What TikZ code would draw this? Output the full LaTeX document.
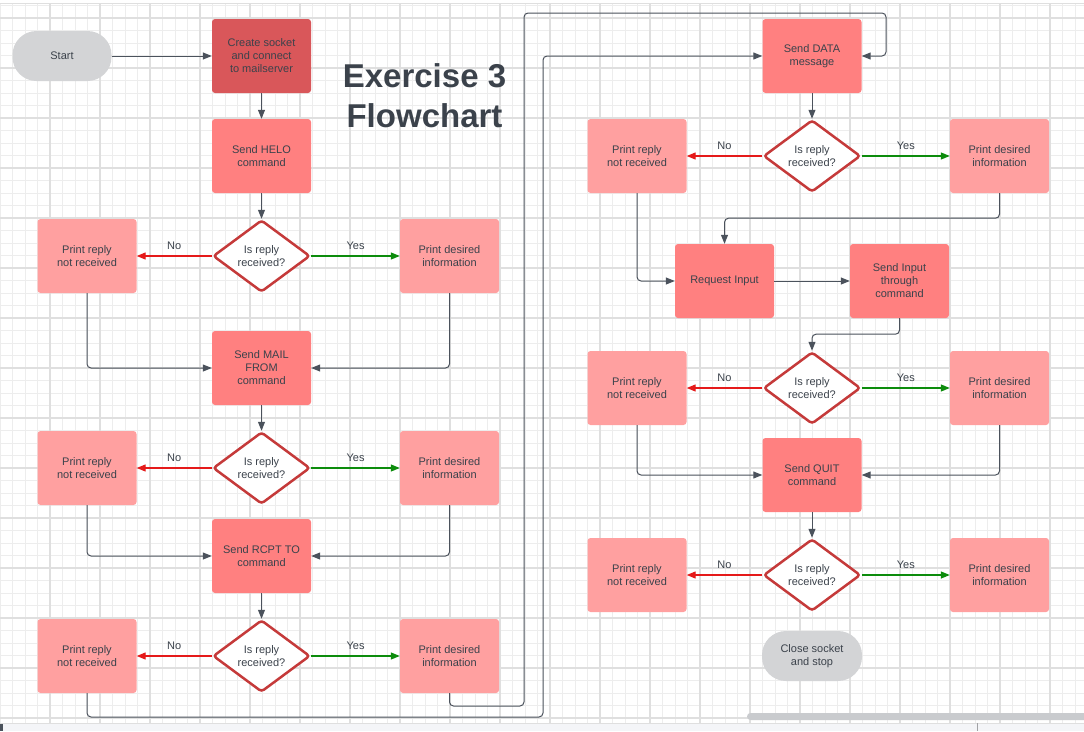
\documentclass[tikz,border=0pt]{standalone}
\usepackage{fontspec}
\setmainfont{Liberation Sans}
\usetikzlibrary{shapes.geometric,arrows.meta}
\definecolor{gridminor}{HTML}{EDEDED}
\definecolor{gridmajor}{HTML}{DFDFDF}
\definecolor{textc}{HTML}{3B424B}
\definecolor{connc}{HTML}{4B525C}
\definecolor{noc}{HTML}{E51A1A}
\definecolor{yesc}{HTML}{0C8C0C}
\definecolor{decc}{HTML}{C53A3A}
\definecolor{createfill}{HTML}{D9575A}
\definecolor{cmdfill}{HTML}{FF8080}
\definecolor{prtfill}{HTML}{FFA0A0}
\definecolor{termfill}{HTML}{D3D4D6}
\definecolor{stripc}{HTML}{F4F5F8}
\definecolor{scrollc}{HTML}{C9CBCE}
\begin{document}
\begin{tikzpicture}[x=1pt,y=-1pt,
  txt/.style={text=textc, font=\fontsize{11}{13}\selectfont, align=center},
  cmdbox/.style={txt, rectangle, fill=cmdfill, rounded corners=3pt, minimum width=99pt, minimum height=74pt, inner sep=0pt},
  prtbox/.style={cmdbox, fill=prtfill},
  termbox/.style={txt, rectangle, fill=termfill, rounded corners=24pt, minimum width=99pt, minimum height=50pt, inner sep=0pt},
  decbox/.style={txt, diamond, draw=decc, line width=2.5pt, fill=white, rounded corners=3pt, minimum width=97pt, minimum height=72pt, inner sep=0pt},
  conn/.style={draw=connc, line width=1pt, rounded corners=4pt, -{Triangle[length=9pt,width=7pt]}},
  noarr/.style={draw=noc, line width=1.2pt, -{Triangle[length=9pt,width=7pt]}},
  yesarr/.style={draw=yesc, line width=1.2pt, -{Triangle[length=9pt,width=7pt]}},
  lbl/.style={txt, yshift=10pt, inner sep=0pt}
]
\useasboundingbox (0,0) rectangle (1084,731);
\fill[white] (0,0) rectangle (1084,731);
% grid
\foreach \i in {0,...,86} { \draw[gridminor, line width=1pt] (\i*12.5,4) -- (\i*12.5,723); }
\foreach \j in {0,...,57} { \draw[gridminor, line width=1pt] (0,5.5+\j*12.5) -- (1084,5.5+\j*12.5); }
\foreach \i in {1,...,21} { \draw[gridmajor, line width=1.6pt] (\i*50,4) -- (\i*50,723); }
\foreach \j in {0,...,14} { \draw[gridmajor, line width=1.6pt] (0,18+\j*50) -- (1084,18+\j*50); }
\draw[gridmajor, line width=1pt] (0,3.5) -- (1084,3.5);
% bottom strip and scrollbar
\fill[stripc] (0,723) rectangle (1084,731);
\draw[gridmajor, line width=0.8pt] (0,723) -- (1084,723);
\draw[scrollc!80!black, line width=0.6pt] (977,723) -- (977,731);
\fill[connc] (0,724) rectangle (3,731);
\fill[scrollc, rounded corners=3.5pt] (747,713) rectangle (1090,720);

% title
\node[text=textc, font=\fontsize{33}{40}\selectfont\bfseries, align=center] (title) at (424.5,96) {Exercise 3\\Flowchart};

% left column
\node[termbox] (start) at (62,56) {Start};
\node[cmdbox, fill=createfill] (create) at (261.5,56) {Create socket\\and connect\\to mailserver};
\node[cmdbox] (helo) at (261.5,156) {Send HELO\\command};
\node[decbox] (d1) at (261.5,256) {Is reply\\received?};
\node[prtbox] (n1) at (87,256) {Print reply\\not received};
\node[prtbox] (y1) at (449.5,256) {Print desired\\information};
\node[cmdbox] (mail) at (261.5,368) {Send MAIL\\FROM\\command};
\node[decbox] (d2) at (261.5,468) {Is reply\\received?};
\node[prtbox] (n2) at (87,468) {Print reply\\not received};
\node[prtbox] (y2) at (449.5,468) {Print desired\\information};
\node[cmdbox] (rcpt) at (261.5,556) {Send RCPT TO\\command};
\node[decbox] (d3) at (261.5,656) {Is reply\\received?};
\node[prtbox] (n3) at (87,656) {Print reply\\not received};
\node[prtbox] (y3) at (449.5,656) {Print desired\\information};

% right column
\node[cmdbox] (data) at (812,56) {Send DATA\\message};
\node[decbox] (d4) at (812,156) {Is reply\\received?};
\node[prtbox] (n4) at (637,156) {Print reply\\not received};
\node[prtbox] (y4) at (999.5,156) {Print desired\\information};
\node[cmdbox] (req) at (724.5,281) {Request Input};
\node[cmdbox] (sin) at (899.5,281) {Send Input\\through\\command};
\node[decbox] (d5) at (812,388) {Is reply\\received?};
\node[prtbox] (n5) at (637,388) {Print reply\\not received};
\node[prtbox] (y5) at (999.5,388) {Print desired\\information};
\node[cmdbox] (quit) at (812,475) {Send QUIT\\command};
\node[decbox] (d6) at (812,575) {Is reply\\received?};
\node[prtbox] (n6) at (637,575) {Print reply\\not received};
\node[prtbox] (y6) at (999.5,575) {Print desired\\information};
\node[termbox, minimum width=100pt] (close) at (812,656) {Close socket\\and stop};

% coordinates for long loops
\coordinate (c1) at (543,717);
\coordinate (c2) at (524,706);
\coordinate (c3) at (886,13);

% connectors left
\draw[conn] (start.east) -- (create.west);
\draw[conn] (create.south) -- (helo.north);
\draw[conn] (helo.south) -- (d1.north);
\draw[noarr] (d1.west) -- node[lbl]{No} (n1.east);
\draw[yesarr] (d1.east) -- node[lbl]{Yes} (y1.west);
\draw[conn] (n1.south) |- (mail.west);
\draw[conn] (y1.south) |- (mail.east);
\draw[conn] (mail.south) -- (d2.north);
\draw[noarr] (d2.west) -- node[lbl]{No} (n2.east);
\draw[yesarr] (d2.east) -- node[lbl]{Yes} (y2.west);
\draw[conn] (n2.south) |- (rcpt.west);
\draw[conn] (y2.south) |- (rcpt.east);
\draw[conn] (rcpt.south) -- (d3.north);
\draw[noarr] (d3.west) -- node[lbl]{No} (n3.east);
\draw[yesarr] (d3.east) -- node[lbl]{Yes} (y3.west);
\draw[conn] (n3.south) |- (c1) |- (data.west);
\draw[conn] (y3.south) |- (c2) |- (c3) |- (data.east);

% connectors right
\draw[conn] (data.south) -- (d4.north);
\draw[noarr] (d4.west) -- node[lbl]{No} (n4.east);
\draw[yesarr] (d4.east) -- node[lbl]{Yes} (y4.west);
\draw[conn] (n4.south) |- (req.west);
\draw[conn] (y4.south) -- ++(0,25) -| (req.north);
\draw[conn] (req.east) -- (sin.west);
\draw[conn] (sin.south) -- ++(0,16) -| (d5.north);
\draw[noarr] (d5.west) -- node[lbl]{No} (n5.east);
\draw[yesarr] (d5.east) -- node[lbl]{Yes} (y5.west);
\draw[conn] (n5.south) |- (quit.west);
\draw[conn] (y5.south) |- (quit.east);
\draw[conn] (quit.south) -- (d6.north);
\draw[noarr] (d6.west) -- node[lbl]{No} (n6.east);
\draw[yesarr] (d6.east) -- node[lbl]{Yes} (y6.west);
\end{tikzpicture}
\end{document}
